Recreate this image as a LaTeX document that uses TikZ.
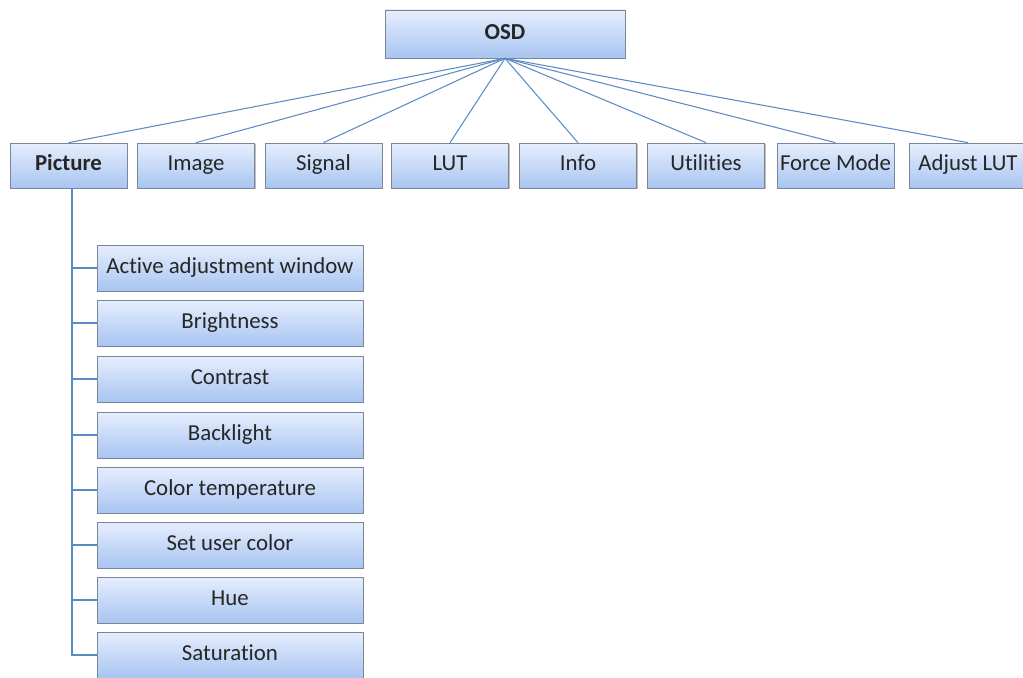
\documentclass[tikz,border=0pt]{standalone}
\usepackage{fontspec}
\setmainfont{Carlito}[Ligatures = NoCommon]
\usetikzlibrary{shadows}
\definecolor{boxtop}{HTML}{E6EEFD}
\definecolor{boxbot}{HTML}{A8C4F1}
\definecolor{boxline}{HTML}{7C8699}
\definecolor{link}{HTML}{5B8BC5}
\tikzset{
	menu/.style = {draw = boxline, top color = boxtop, bottom color = boxbot, inner sep = 0pt,
		font = \fontsize{13}{15}\selectfont, text = black!85, text height = 1.65ex, text depth = .45ex,
		drop shadow = {shadow xshift = .8pt, shadow yshift = -.8pt, opacity = .25, fill = black}},
	tab/.style = {menu, minimum width = 2.34cm, minimum height = .9cm},
	item/.style = {menu, minimum width = 5.32cm, minimum height = .92cm},
	wire/.style = {draw = link, semithick}
}
\begin{document}
\begin{tikzpicture}[x = .02cm, y = .02cm]
		\useasboundingbox (0,0) rectangle (1023,-678);
		\node (OSD) at (505,-34) [menu, minimum width = 4.8cm, minimum height = .96cm] {\textbf{OSD}};

		\node (Pic) at (68.5,-165.5) [tab] {\textbf{Picture}};
		\node (Img) at (196,-165.5) [tab] {Image};
		\node (Sig) at (323.5,-165.5) [tab] {Signal};
		\node (LUT) at (450,-165.5) [tab] {LUT};
		\node (Inf) at (578,-165.5) [tab] {Info};
		\node (Utl) at (706,-165.5) [tab] {Utilities};
		\node (Frc) at (835.5,-165.5) [tab] {Force Mode};
		\node (Adj) at (968,-165.5) [tab] {Adjust LUT};

		\draw [wire] (OSD.south) -- (Pic.north);
		\draw [wire] (OSD.south) -- (Img.north);
		\draw [wire] (OSD.south) -- (Sig.north);
		\draw [wire] (OSD.south) -- (LUT.north);
		\draw [wire] (OSD.south) -- (Inf.north);
		\draw [wire] (OSD.south) -- (Utl.north);
		\draw [wire] (OSD.south) -- (Frc.north);
		\draw [wire] (OSD.south) -- (Adj.north);

		\node (Act) at (230,-268) [item] {Active adjustment window};
		\node (Bri) at (230,-323) [item] {Brightness};
		\node (Con) at (230,-379) [item] {Contrast};
		\node (Bkl) at (230,-435) [item] {Backlight};
		\node (Tmp) at (230,-490) [item] {Color temperature};
		\node (Usr) at (230,-545) [item] {Set user color};
		\node (Hue) at (230,-600) [item] {Hue};
		\node (Sat) at (230,-655) [item] {Saturation};

		\coordinate (P) at ([xshift = 2pt]Pic.south);
		\draw [wire] (P) |- (Act.west);
		\draw [wire] (P) |- (Bri.west);
		\draw [wire] (P) |- (Con.west);
		\draw [wire] (P) |- (Bkl.west);
		\draw [wire] (P) |- (Tmp.west);
		\draw [wire] (P) |- (Usr.west);
		\draw [wire] (P) |- (Hue.west);
		\draw [wire] (P) |- (Sat.west);
\end{tikzpicture}
\end{document}
